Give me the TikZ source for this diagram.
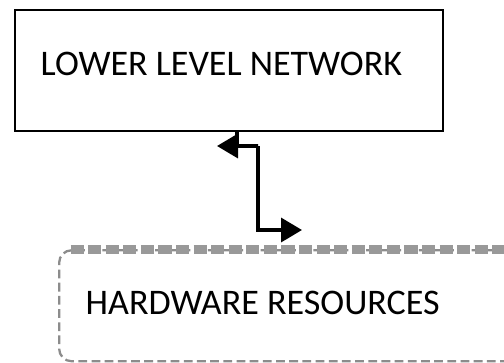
\documentclass[tikz,border=0pt]{standalone}
\usepackage{fontspec}
\setmainfont{Carlito}
\usetikzlibrary{arrows.meta,positioning,calc}
\tikzset{
  every picture/.style={line width=0.8pt},
  netbox/.style={draw, line width=1.2pt, minimum width=8.56cm, minimum height=2.42cm, inner sep=0pt},
  hwbox/.style={draw=black!45, dash pattern=on 5pt off 2.5pt, line width=1.3pt, rounded corners=0.25cm, minimum width=9.2cm, minimum height=2.22cm, inner sep=0pt},
  boxtext/.style={font=\fontsize{20.5}{24}\selectfont, inner sep=0pt},
  link/.style={line width=2pt, -{Triangle[length=0.42cm, width=0.48cm]}}
}
\begin{document}
\begin{tikzpicture}
    \useasboundingbox (0,0) rectangle (10.08,-7.24);
    \clip (0,0) rectangle (10.08,-7.24);

    \node [netbox, anchor=north west] (lower) at (0.28,-0.18) {};
    \node [boxtext, anchor=west] (lowertext) at ($(lower.west)+(0.52,0.13)$) {LOWER LEVEL NETWORK};

    \node [hwbox, below right=2.34cm and 0.88cm of lower.south west] (hw) {};
    \draw [black!40, line width=5pt, dash pattern=on 7.5pt off 2.5pt] ($(hw.north west)+(0.25,0)$) -- ($(hw.north east)+(-0.25,0)$);
    \node [boxtext, anchor=west] (hwtext) at ($(hw.west)+(0.54,0.05)$) {HARDWARE RESOURCES};

    % connector
    \coordinate (ltip) at (4.34,-2.92);
    \coordinate (rtip) at (6.04,-4.6);
    \draw [link] ($(lower.south west)+(4.46,0)$) |- (5.16,-2.92) -- (ltip);
    \draw [link] (5.16,-2.92) |- (rtip);
\end{tikzpicture}
\end{document}
